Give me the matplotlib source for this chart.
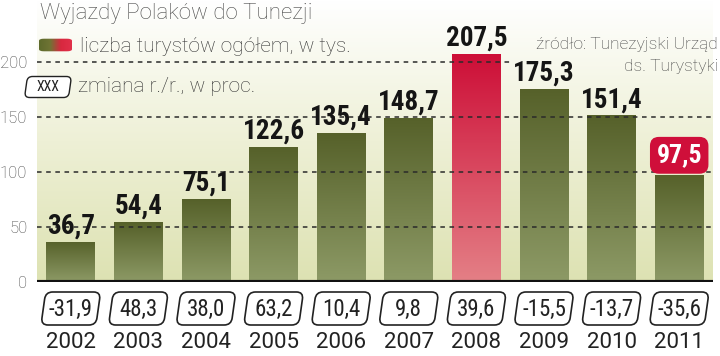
import numpy as np
import matplotlib
matplotlib.use("Agg")
import matplotlib.pyplot as plt
from matplotlib import font_manager
from matplotlib.patches import FancyBboxPatch
from matplotlib.transforms import Affine2D
from matplotlib.colors import LinearSegmentedColormap

years = ['2002', '2003', '2004', '2005', '2006', '2007', '2008', '2009', '2010', '2011']
tourists = [36.7, 54.4, 75.1, 122.6, 135.4, 148.7, 207.5, 175.3, 151.4, 97.5]
changes = [-31.9, 48.3, 38.0, 63.2, 10.4, 9.8, 39.6, -15.5, -13.7, -35.6]
peak_year = '2008'
last_year = '2011'

def pl(v):
    return f"{v:.1f}".replace('.', ',')

# condensed font for the numbers, falls back to Roboto if none is around
names = {f.name for f in font_manager.fontManager.ttflist}
narrow, nscale = 'Roboto', 0.8
for cand in ['Roboto Condensed', 'Archivo Narrow', 'PT Sans Narrow',
             'Liberation Sans Narrow', 'Barlow Condensed']:
    if cand in names:
        narrow, nscale = cand, 1.0
        break
light = 'Roboto'

W, H = 720, 356
fig = plt.figure(figsize=(W / 100, H / 100), dpi=100)
ax = fig.add_axes([37 / W, 74 / H, 676 / W, 282 / H])
ytop = 282 / 1.1
x = np.arange(len(years))

# background gradient
bg = LinearSegmentedColormap.from_list('bg', ['#dde2b2', '#eef0d6', '#ffffff'])
ax.imshow(np.linspace(0, 1, 256).reshape(-1, 1), extent=[-0.5, 9.5, 0, ytop],
          origin='lower', aspect='auto', cmap=bg, zorder=0)

green = LinearSegmentedColormap.from_list('g', ['#8d9a66', '#56612a'])
red = LinearSegmentedColormap.from_list('r', ['#e48086', '#cd0e37'])
bars = ax.bar(x, tourists, width=0.72, color='none', zorder=2)
grad = np.linspace(0, 1, 256).reshape(-1, 1)
for i, b in enumerate(bars):
    cm = red if years[i] == peak_year else green
    im = ax.imshow(grad, extent=[b.get_x(), b.get_x() + b.get_width(), 0, b.get_height()],
                   origin='lower', aspect='auto', cmap=cm, zorder=2)
    im.set_clip_path(b)

# dashed grid on top of bars
for v in [50, 100, 150]:
    ax.axhline(v, color='#2a2a2a', lw=1.1, ls=(0, (3, 3)), zorder=3)
ax.hlines(200, -0.5, 6.5, color='#2a2a2a', lw=1.1, ls=(0, (3, 3)), zorder=3)
ax.axhline(0, color='#111111', lw=3, zorder=4)

ax.set_xlim(-0.5, 9.5)
ax.set_ylim(0, ytop)
ax.set_xticks([])
ax.set_yticks([0, 50, 100, 150, 200])
ax.tick_params(axis='y', length=0, pad=7, labelsize=12, labelcolor='#444444')
for lab in ax.get_yticklabels():
    lab.set_family(light)
    lab.set_fontweight('light')
for s in ax.spines.values():
    s.set_visible(False)

# value labels
for i, v in enumerate(tourists):
    if years[i] == last_year:
        ax.annotate(pl(v), (i, v), xytext=(0, 14), textcoords='offset points',
                    ha='center', va='center', fontsize=18.5 * nscale, fontweight=900,
                    family=narrow, color='white', zorder=6,
                    bbox=dict(boxstyle='round,pad=0.25,rounding_size=0.35',
                              fc='#cf0f3a', ec='none'))
    else:
        ax.annotate(pl(v), (i, v), xytext=(0, 6), textcoords='offset points',
                    ha='center', va='baseline', fontsize=19.5 * nscale, fontweight=900,
                    family=narrow, color='#151515', zorder=6)

def slanted_box(cx, cy, w, h, r, lw=1.2):
    # cx, cy, w, h in pixels (display, y from bottom)
    cx, cy, w, h, r = cx / 100, cy / 100, w / 100, h / 100, r / 100
    p = FancyBboxPatch((cx - w / 2 + r, cy - h / 2 + r), w - 2 * r, h - 2 * r,
                       boxstyle=f'round,pad={r},rounding_size={r}',
                       fc='white', ec='#222222', lw=lw)
    p.set_transform(Affine2D().translate(-cx, -cy).skew_deg(8, 0).translate(cx, cy)
                    + fig.dpi_scale_trans)
    fig.add_artist(p)

# change boxes and years
for i, c in enumerate(changes):
    px = ax.transData.transform((i, 0))[0]
    slanted_box(px, H - 308.5, 55, 33, 7)
    fig.text(px / W, (H - 309) / H, pl(c), ha='center', va='center', fontsize=16.5 * nscale,
             family=narrow, color='#222222')
    fig.text(px / W, (H - 343) / H, years[i], ha='center', va='center', fontsize=16,
             family=light, color='#222222')

# title and legend
fig.text(40 / W, (H - 14) / H, 'Wyjazdy Polaków do Tunezji', ha='left', va='center',
         fontsize=16, family=light, fontweight='light', color='#4a4a4a')
sw = fig.add_axes([39 / W, (H - 52) / H, 33 / W, 14 / H])
sw_cm = LinearSegmentedColormap.from_list('sw', ['#5e6a2c', '#6f7434', '#d8283f', '#e0304a'])
sw_im = sw.imshow(np.linspace(0, 1, 64).reshape(1, -1), aspect='auto', cmap=sw_cm,
                  extent=[0, 1, 0, 1])
clip = FancyBboxPatch((0.1, 0.15), 0.8, 0.7, boxstyle='round,pad=0.1,rounding_size=0.15',
                      transform=sw.transAxes, fc='none', ec='none')
sw.add_patch(clip)
sw_im.set_clip_path(clip)
sw.axis('off')
fig.text(80 / W, (H - 46) / H, 'liczba turystów ogółem, w tys.', ha='left', va='center',
         fontsize=15, family=light, fontweight='light', color='#333333')
slanted_box(48, H - 87, 44, 21, 5, lw=1.0)
fig.text(48 / W, (H - 87) / H, 'XXX', ha='center', va='center', fontsize=10,
         family=narrow, color='#222222')
fig.text(78 / W, (H - 86) / H, 'zmiana r./r., w proc.', ha='left', va='center',
         fontsize=15, family=light, fontweight='light', color='#333333')
fig.text(718 / W, (H - 45) / H, 'źródło: Tunezyjski Urząd', ha='right', va='center',
         fontsize=12.5, family=light, fontweight='light', color='#444444')
fig.text(718 / W, (H - 66) / H, 'ds. Turystyki', ha='right', va='center',
         fontsize=12.5, family=light, fontweight='light', color='#444444')

fig.savefig('out.png', dpi=100)
